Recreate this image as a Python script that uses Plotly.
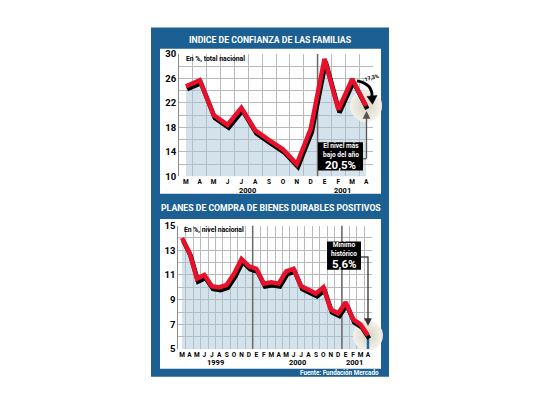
import plotly.graph_objects as go

W, H = 540, 405
def X(px): return px / W
def Y(py): return 1 - py / H

# ---------------- data ----------------
top_title = "INDICE DE CONFIANZA DE LAS FAMILIAS"
top_months = ["M", "A", "M", "J", "J", "A", "S", "O", "N", "D", "E", "F", "M", "A"]
top_values = [24.7, 25.7, 20.0, 18.4, 21.2, 17.5, 15.9, 14.4, 12.0, 17.7, 29.2, 20.9, 25.9, 21.5]
top_years = ["2000", "2001"]
top_yticks = [10, 14, 18, 22, 26, 30]

bot_title = "PLANES DE COMPRA DE BIENES DURABLES POSITIVOS"
bot_months = ["M", "A", "M", "J", "J", "A", "S", "O", "N", "D", "E", "F", "M",
              "A", "M", "J", "J", "A", "S", "O", "N", "D", "E", "F", "M", "A"]
bot_values = [14.0, 12.8, 10.7, 11.0, 10.1, 10.0, 10.2, 11.1, 12.3, 11.7, 11.5, 10.3, 10.4,
              10.3, 11.3, 11.5, 10.1, 9.8, 9.5, 10.0, 8.2, 7.9, 8.8, 7.4, 7.0, 6.1]
bot_years = ["1999", "2000", "2001"]
bot_yticks = [5, 7, 9, 11, 13, 15]

# ---------------- styles ----------------
FONT = "Roboto, Lato, DejaVu Sans Condensed, sans-serif"
BLUE = "#1c5f93"
RED = "#e8102a"
FILL = "rgba(170,198,216,0.5)"
GRID = "#b9b9b9"

top_x = list(range(len(top_months)))
bot_x = list(range(len(bot_months)))
# boundaries between years: first "E" (enero)
top_sep = [i - 0.5 for i, m in enumerate(top_months) if m == "E"]
bot_sep = [i - 0.5 for i, m in enumerate(bot_months) if m == "E"]

TOP = (179, 373, 49.3, 175)
BOT = (178.3, 371.7, 225.7, 352.7)
SDX, SDY = 1.2, 3.0

def dom(box, dx=0.0, dy=0.0):
    l, r, t, b = box
    return [X(l + dx), X(r + dx)], [Y(b + dy), Y(t + dy)]

fig = go.Figure()

fig.add_trace(go.Scatter(x=top_x, y=top_values, mode="lines", line=dict(width=0),
                         fill="tozeroy", fillcolor=FILL, xaxis="x", yaxis="y", hoverinfo="skip"))
fig.add_trace(go.Scatter(x=bot_x, y=bot_values, mode="lines", line=dict(width=0),
                         fill="tozeroy", fillcolor=FILL, xaxis="x2", yaxis="y2", hoverinfo="skip"))
for s in top_sep:
    fig.add_trace(go.Scatter(x=[s, s], y=[top_yticks[0], top_yticks[-1]], mode="lines",
                             line=dict(color="#6a6a6a", width=1.5), xaxis="x", yaxis="y", hoverinfo="skip"))
for s in bot_sep:
    fig.add_trace(go.Scatter(x=[s, s], y=[bot_yticks[0], bot_yticks[-1]], mode="lines",
                             line=dict(color="#6a6a6a", width=1.5), xaxis="x2", yaxis="y2", hoverinfo="skip"))
fig.add_trace(go.Scatter(x=[top_x[-1]], y=[top_values[-1]], mode="markers", cliponaxis=False,
                         marker=dict(size=32, color="#f5f2ea", opacity=0.95,
                                     gradient=dict(type="radial", color="#d5d0c0"), line=dict(width=0)),
                         xaxis="x", yaxis="y", hoverinfo="skip"))
fig.add_trace(go.Scatter(x=[bot_x[-1]], y=[bot_values[-1]], mode="markers", cliponaxis=False,
                         marker=dict(size=30, color="#f5f2ea", opacity=0.95,
                                     gradient=dict(type="radial", color="#d5d0c0"), line=dict(width=0)),
                         xaxis="x2", yaxis="y2", hoverinfo="skip"))
fig.add_trace(go.Scatter(x=[bot_x[-1], bot_x[-1]], y=[bot_yticks[0], bot_values[-1]], mode="lines",
                         line=dict(color="#1f6aa5", width=2.5), xaxis="x2", yaxis="y2", hoverinfo="skip"))

fig.add_trace(go.Scatter(x=top_x, y=top_values, mode="lines", line=dict(color="black", width=4.5),
                         xaxis="x3", yaxis="y3", hoverinfo="skip"))
fig.add_trace(go.Scatter(x=bot_x, y=bot_values, mode="lines", line=dict(color="black", width=4.5),
                         xaxis="x4", yaxis="y4", hoverinfo="skip"))
fig.add_trace(go.Scatter(x=top_x, y=top_values, mode="lines", line=dict(color=RED, width=4.5),
                         xaxis="x5", yaxis="y5", hoverinfo="skip"))
fig.add_trace(go.Scatter(x=bot_x, y=bot_values, mode="lines", line=dict(color=RED, width=4.5),
                         xaxis="x6", yaxis="y6", hoverinfo="skip"))

tx, ty = dom(TOP)
bx, by = dom(BOT)
tsx, tsy = dom(TOP, SDX, SDY)
bsx, bsy = dom(BOT, SDX, SDY)
top_xr = [-0.5, len(top_months) - 0.5]
bot_xr = [-0.5, len(bot_months) - 0.5]
top_yr = [top_yticks[0], top_yticks[-1]]
bot_yr = [bot_yticks[0], bot_yticks[-1]]

tickfont_x = dict(family=FONT, size=6.5, color="black", weight="bold")
tickfont_y = dict(family=FONT, size=9.5, color="black", weight="bold")

def xmain(domain, rng, months, anchor):
    return dict(domain=domain, range=rng, anchor=anchor, tickmode="array",
                tickvals=list(range(len(months))), ticktext=months, tickfont=tickfont_x,
                tickangle=0, showgrid=False, zeroline=False, ticks="", showline=False, fixedrange=True,
                minor=dict(tick0=-0.5, dtick=1, showgrid=True, gridcolor=GRID, gridwidth=1, ticks=""))

def ymain(domain, rng, ticks, minor_dt, anchor):
    return dict(domain=domain, range=rng, anchor=anchor, tickmode="array", tickvals=ticks,
                tickfont=tickfont_y, showgrid=True, gridcolor=GRID, gridwidth=1, zeroline=False,
                ticks="", showline=True, linecolor="#8a8a8a", linewidth=1, fixedrange=True,
                minor=dict(dtick=minor_dt, showgrid=True, gridcolor=GRID, gridwidth=1, ticks=""))

def hidden(domain, rng, anchor):
    return dict(domain=domain, range=rng, anchor=anchor, visible=False, showgrid=False,
                zeroline=False, fixedrange=True)

shapes = [
    dict(type="rect", xref="paper", yref="paper", x0=X(151), x1=X(389), y0=Y(381), y1=Y(22),
         fillcolor=BLUE, line=dict(width=0), layer="below"),
    dict(type="rect", xref="paper", yref="paper", x0=X(160), x1=X(381), y0=Y(193), y1=Y(44),
         fillcolor="white", line=dict(width=0), layer="below"),
    dict(type="rect", xref="paper", yref="paper", x0=X(160), x1=X(381), y0=Y(373), y1=Y(219),
         fillcolor="white", line=dict(width=0), layer="below"),
    # callout boxes
    dict(type="rect", xref="paper", yref="paper", x0=X(318), x1=X(363), y0=Y(169), y1=Y(140),
         fillcolor="black", line=dict(width=0), layer="above"),
    dict(type="rect", xref="paper", yref="paper", x0=X(327), x1=X(361), y0=Y(271), y1=Y(242),
         fillcolor="black", line=dict(width=0), layer="above"),
    # connectors
    dict(type="line", xref="paper", yref="paper", x0=X(363), x1=X(366.5), y0=Y(157), y1=Y(157),
         line=dict(color="#555555", width=1.3), layer="above"),
    dict(type="line", xref="paper", yref="paper", x0=X(361), x1=X(368), y0=Y(258), y1=Y(258),
         line=dict(color="#333333", width=1.3), layer="above"),
    # curved arrow (-17,3%)
    dict(type="path", xref="paper", yref="paper",
         path=f"M {X(357)},{Y(77)} Q {X(373)},{Y(80)} {X(372)},{Y(94)}",
         line=dict(color="black", width=2.8), layer="above"),
    dict(type="path", xref="paper", yref="paper",
         path=f"M {X(367)},{Y(93)} L {X(377)},{Y(92)} L {X(372.5)},{Y(101)} Z",
         fillcolor="black", line=dict(color="black", width=0.5), layer="above"),
]

def ann(text, px, py, size, color="black", xanchor="center", family=FONT, **kw):
    return dict(text=text, x=X(px), y=Y(py), xref="paper", yref="paper", showarrow=False,
                xanchor=xanchor, yanchor="middle",
                font=dict(family=family, size=size, color=color, weight="bold"), **kw)

annotations = [
    ann(top_title, 270.5, 35, 8.7, "white"),
    ann(bot_title, 271, 208, 8.7, "white"),
    ann("En %, total nacional", 184, 54, 6.8, xanchor="left"),
    ann("En %, nivel nacional", 182, 230, 6.8, xanchor="left"),
    ann(top_years[0], 247, 190, 7.5),
    ann(top_years[1], 342, 190, 7.5),
    ann(bot_years[0], 215, 366, 7.5),
    ann(bot_years[1], 297, 366, 7.5),
    ann(bot_years[2], 354, 366, 7.5),
    ann("Fuente: Fundación Mercado", 381, 377, 6.3, "white", xanchor="right"),
    ann("-17,3%", 370, 74, 5.5, textangle=-15),
    ann("El nivel más<br>bajo del año", 340.5, 149, 6.6, "white"),
    ann("20,5%", 340.5, 163.5, 11.5, "white"),
    ann("Mínimo<br>histórico", 344, 250.5, 6.6, "white"),
    ann("5,6%", 344, 265, 11.5, "white"),
    dict(text="", x=X(366.5), y=Y(108), xref="paper", yref="paper", showarrow=True,
         ax=0, ay=49, arrowhead=2, arrowsize=1.2, arrowwidth=1.3, arrowcolor="#555555"),
    dict(text="", x=X(368), y=Y(329), xref="paper", yref="paper", showarrow=True,
         ax=0, ay=-71, arrowhead=2, arrowsize=1.2, arrowwidth=1.3, arrowcolor="#333333"),
]

fig.update_layout(
    width=W, height=H, autosize=False, margin=dict(l=0, r=0, t=0, b=0, pad=0),
    paper_bgcolor="white", plot_bgcolor="rgba(0,0,0,0)", showlegend=False,
    xaxis=xmain(tx, top_xr, top_months, "y"),
    yaxis=ymain(ty, top_yr, top_yticks, 2, "x"),
    xaxis2=xmain(bx, bot_xr, bot_months, "y2"),
    yaxis2=ymain(by, bot_yr, bot_yticks, 1, "x2"),
    xaxis3=hidden(tsx, top_xr, "y3"), yaxis3=hidden(tsy, top_yr, "x3"),
    xaxis4=hidden(bsx, bot_xr, "y4"), yaxis4=hidden(bsy, bot_yr, "x4"),
    xaxis5=hidden(tx, top_xr, "y5"), yaxis5=hidden(ty, top_yr, "x5"),
    xaxis6=hidden(bx, bot_xr, "y6"), yaxis6=hidden(by, bot_yr, "x6"),
    shapes=shapes, annotations=annotations,
)

fig.write_html("out.html", config={"displayModeBar": False})
